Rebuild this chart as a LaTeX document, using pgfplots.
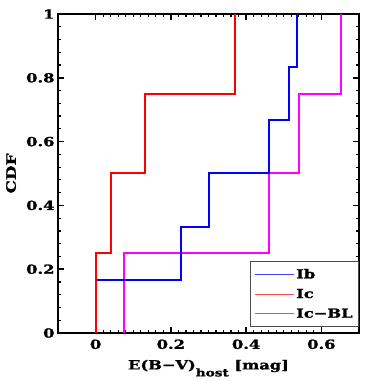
\documentclass[border=0pt]{standalone}
\usepackage{fontspec}
\setmainfont{DejaVu Serif}[FakeStretch=1.3, BoldFeatures={FakeBold=1.5}]
\usepackage{pgfplots}
\pgfplotsset{compat=1.18}
\definecolor{ibcol}{RGB}{0,0,255}
\definecolor{iccol}{RGB}{255,0,0}
\definecolor{blcol}{RGB}{255,0,255}
\newcommand{\lbl}{\fontsize{12.5}{14}\selectfont\bfseries}
\begin{document}
\begin{tikzpicture}
\useasboundingbox (-58pt,-49pt) rectangle (310pt,333pt);
\begin{axis}[
  at={(0,0)}, anchor=south west,
  scale only axis, width=301pt, height=319pt,
  xmin=-0.1, xmax=0.7, ymin=0, ymax=1,
  xtick={0,0.2,0.4,0.6}, ytick={0,0.2,0.4,0.6,0.8,1},
  minor x tick num=9, minor y tick num=4,
  tick align=inside, tick pos=both,
  xticklabel pos=lower, yticklabel pos=left,
  major tick length=6pt, minor tick length=3pt,
  major tick style={black, line width=1.5pt},
  minor tick style={black, line width=1.2pt},
  axis line style={line width=2pt},
  tick label style={font=\lbl},
  xticklabel style={yshift=-3pt},
  /pgf/number format/assume math mode=true,
  xlabel={E(B−V)\raisebox{-7pt}{\fontsize{10.5}{10}\selectfont\bfseries host} [mag]},
  xlabel style={font=\lbl, at={(axis description cs:0.5,-0.114)}, anchor=base},
  ylabel={CDF},
  ylabel style={font=\fontsize{13}{14}\selectfont\bfseries, at={(axis description cs:-0.156,0.5)}, anchor=center},
  legend style={at={(1,0.02)}, anchor=south east, draw=black!70, line width=0.9pt,
    fill=white, font=\lbl, inner xsep=4pt, inner ysep=5pt, row sep=5pt},
  legend cell align=left,
  legend image code/.code={\draw[#1, line width=0.8pt] (0pt,0pt) -- (39pt,0pt);},
]
\addlegendimage{ibcol!75!white}
\addlegendentry{Ib}
\addlegendimage{iccol!70!white}
\addlegendentry{Ic}
\addlegendimage{blcol!85!white}
\addlegendentry{Ic−BL}
% Ic-BL
\addplot[blcol, line width=2pt, forget plot] coordinates {
  (0.075,0) (0.075,0.25) (0.461,0.25) (0.461,0.5) (0.54,0.5) (0.54,0.75) (0.652,0.75) (0.652,1)};
% Ib
\addplot[ibcol, line width=2pt, forget plot] coordinates {
  (0,0) (0,0.1667) (0.228,0.1667) (0.228,0.3333) (0.301,0.3333) (0.301,0.5)
  (0.461,0.5) (0.461,0.6667) (0.513,0.6667) (0.513,0.8333) (0.535,0.8333) (0.535,1)};
% Ic
\addplot[iccol, line width=2pt, forget plot] coordinates {
  (0,0) (0,0.25) (0.04,0.25) (0.04,0.5) (0.13,0.5) (0.13,0.75) (0.371,0.75) (0.371,1)};
\end{axis}
\end{tikzpicture}
\end{document}
